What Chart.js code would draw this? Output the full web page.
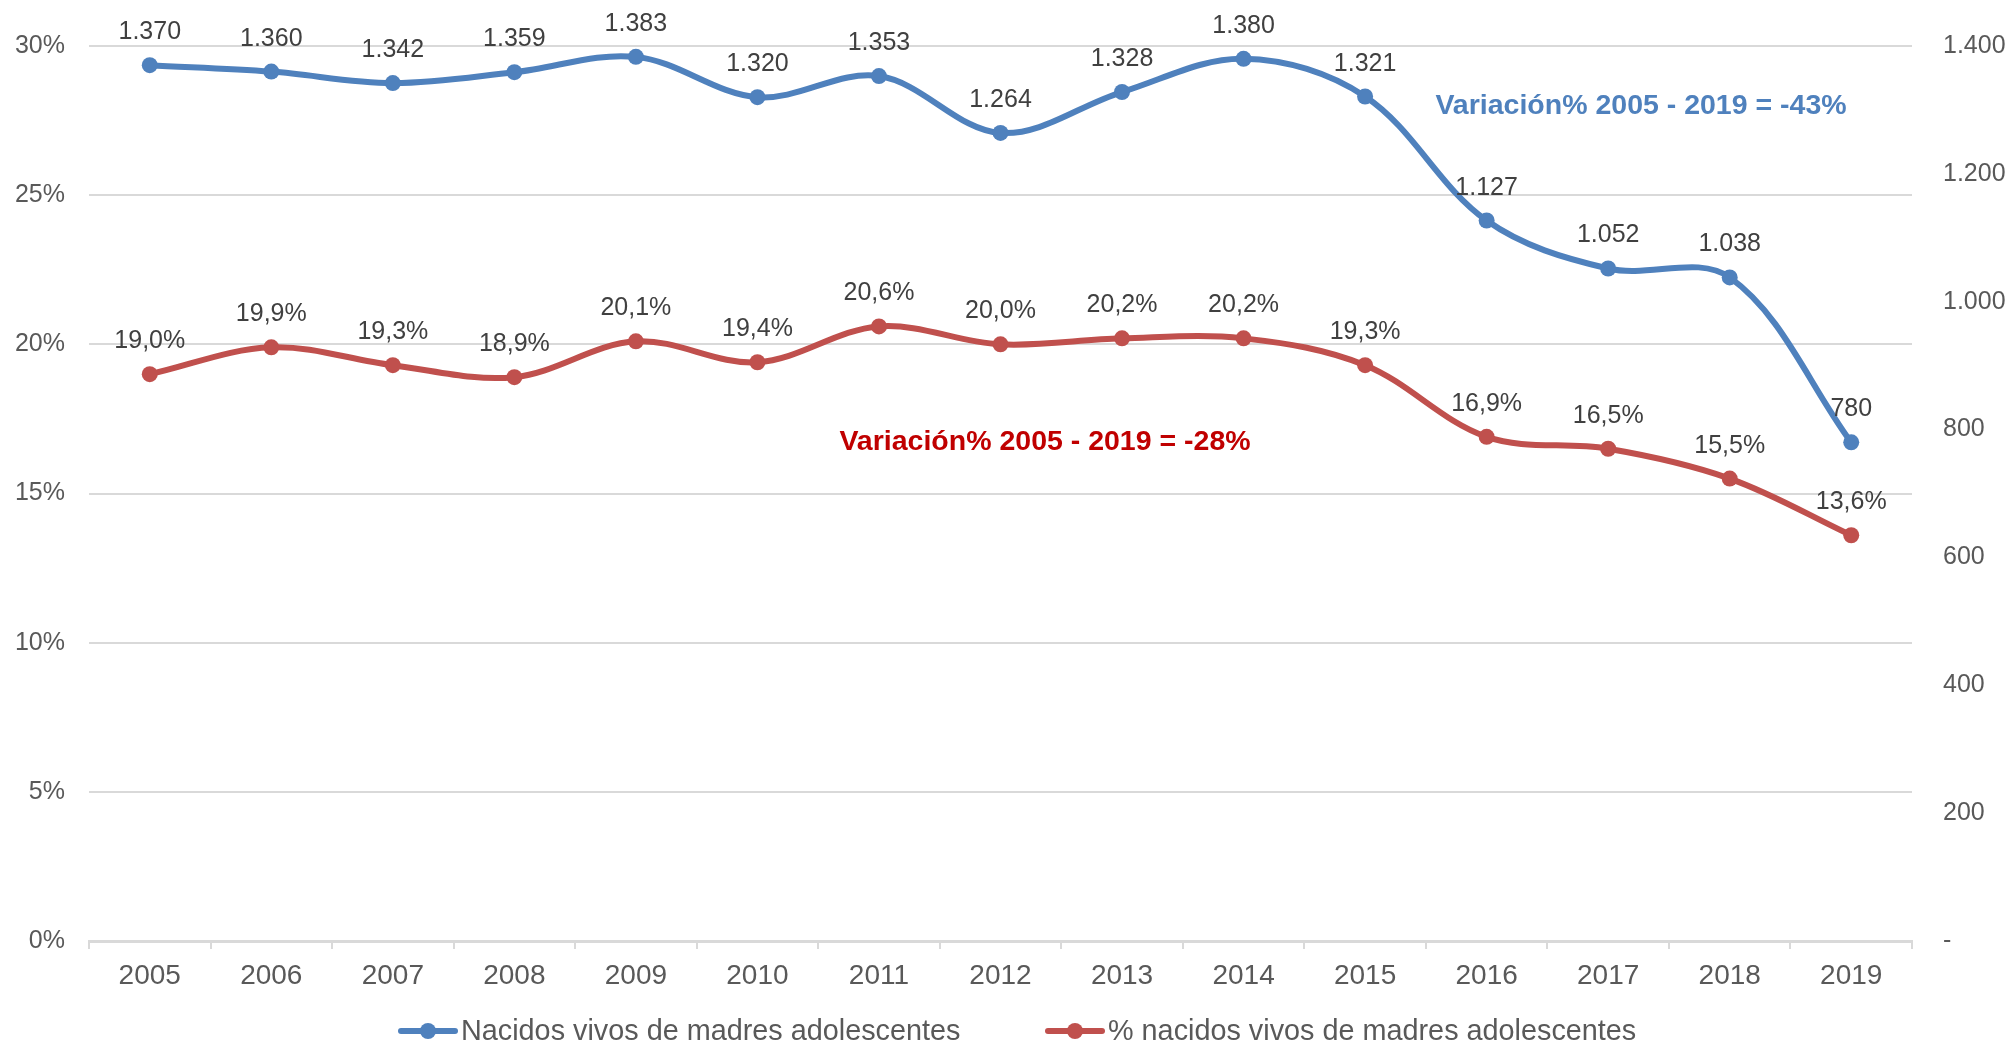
<!DOCTYPE html>
<html>
<head>
<meta charset="utf-8">
<script src="https://cdn.jsdelivr.net/npm/chart.js@4.4.1/dist/chart.umd.min.js"></script>
<style>
  html, body { margin: 0; padding: 0; background: #ffffff; }
  #wrap { width: 2009px; height: 1046px; position: relative; }
</style>
</head>
<body>
<div id="wrap"><canvas id="c" width="2009" height="1046"></canvas></div>
<script>
// ---- Data ----
const years = ['2005','2006','2007','2008','2009','2010','2011','2012','2013','2014','2015','2016','2017','2018','2019'];
const births = [1370, 1360, 1342, 1359, 1383, 1320, 1353, 1264, 1328, 1380, 1321, 1127, 1052, 1038, 780];
const pctBirths = [19.0, 19.9, 19.3, 18.9, 20.1, 19.4, 20.6, 20.0, 20.2, 20.2, 19.3, 16.9, 16.5, 15.5, 13.6];
const seriesNames = ['Nacidos vivos de madres adolescentes', '% nacidos vivos de madres adolescentes'];
const leftTicks = [0, 5, 10, 15, 20, 25, 30];
const rightTicks = [0, 200, 400, 600, 800, 1000, 1200, 1400];
const notes = ['Variación% 2005 - 2019 = -43%', 'Variación% 2005 - 2019 = -28%'];

// ---- Styles ----
const FONT = '"Liberation Sans", Arial, sans-serif';
const BLUE = '#4F81BD';
const RED = '#C0504D';
const GRID = '#D9D9D9';
const TICK = '#595959';

function fmtThousands(n) {
  if (n === 0) return '-';
  const s = String(Math.round(n));
  return s.replace(/\B(?=(\d{3})+(?!\d))/g, '.');
}
function fmtPct(n) { return n.toFixed(1).replace('.', ',') + '%'; }

const dataLabels = {
  id: 'dataLabels',
  afterDatasetsDraw(chart) {
    const ctx = chart.ctx;
    ctx.save();
    ctx.font = '25px ' + FONT;
    ctx.fillStyle = '#404040';
    ctx.textAlign = 'center';
    ctx.textBaseline = 'alphabetic';
    chart.data.datasets.forEach((ds, di) => {
      const meta = chart.getDatasetMeta(di);
      meta.data.forEach((pt, i) => {
        const txt = di === 0 ? fmtThousands(ds.data[i]) : fmtPct(ds.data[i]);
        ctx.fillText(txt, pt.x, pt.y - 26);
      });
    });
    ctx.restore();
  }
};

const notesPlugin = {
  id: 'notes',
  afterDraw(chart) {
    const ctx = chart.ctx;
    ctx.save();
    ctx.font = 'bold 28.5px ' + FONT;
    ctx.textAlign = 'center';
    ctx.textBaseline = 'alphabetic';
    ctx.fillStyle = BLUE;
    ctx.fillText(notes[0], 1641, 114);
    ctx.fillStyle = '#C00000';
    ctx.fillText(notes[1], 1045, 450);
    ctx.restore();
  }
};

const legendPlugin = {
  id: 'customLegend',
  afterDraw(chart) {
    const ctx = chart.ctx;
    const starts = [398, 1045];
    const cy = 1031;
    ctx.save();
    ctx.font = '28.8px ' + FONT;
    ctx.textBaseline = 'middle';
    ctx.textAlign = 'left';
    chart.data.datasets.forEach((ds, i) => {
      const x = starts[i];
      ctx.strokeStyle = ds.borderColor;
      ctx.lineWidth = 6;
      ctx.lineCap = 'round';
      ctx.beginPath();
      ctx.moveTo(x + 3, cy);
      ctx.lineTo(x + 57, cy);
      ctx.stroke();
      ctx.fillStyle = ds.borderColor;
      ctx.beginPath();
      ctx.arc(x + 30, cy, 8, 0, Math.PI * 2);
      ctx.fill();
      ctx.fillStyle = TICK;
      ctx.fillText(ds.label, x + 63, cy + 1);
    });
    ctx.restore();
  }
};

new Chart(document.getElementById('c'), {
  type: 'line',
  data: {
    labels: years,
    datasets: [
      {
        label: seriesNames[0],
        data: births,
        yAxisID: 'yR',
        borderColor: BLUE,
        backgroundColor: BLUE,
        pointBackgroundColor: BLUE,
        pointBorderWidth: 0,
        pointRadius: 8,
        pointHoverRadius: 8,
        borderWidth: 6,
        tension: 0.35,
        fill: false
      },
      {
        label: seriesNames[1],
        data: pctBirths,
        yAxisID: 'yL',
        borderColor: RED,
        backgroundColor: RED,
        pointBackgroundColor: RED,
        pointBorderWidth: 0,
        pointRadius: 8,
        pointHoverRadius: 8,
        borderWidth: 6,
        tension: 0.35,
        fill: false
      }
    ]
  },
  options: {
    responsive: false,
    animation: false,
    events: [],
    layout: { padding: { top: 43, left: 0, right: 0, bottom: 0 } },
    plugins: {
      legend: { display: false },
      tooltip: { enabled: false },
      title: { display: false }
    },
    scales: {
      x: {
        type: 'category',
        offset: true,
        grid: {
          offset: true,
          drawOnChartArea: false,
          drawTicks: true,
          tickLength: 8,
          color: GRID,
          lineWidth: 2
        },
        border: { display: true, color: GRID, width: 3 },
        ticks: {
          color: TICK,
          font: { family: FONT, size: 28 },
          padding: 10,
          maxRotation: 0,
          autoSkip: false
        },
        afterFit(scale) { scale.height = 105; }
      },
      yL: {
        type: 'linear',
        position: 'left',
        min: 0,
        max: 30,
        afterBuildTicks(scale) { scale.ticks = leftTicks.map(v => ({ value: v })); },
        grid: { color: GRID, lineWidth: 2, drawTicks: false },
        border: { display: false },
        ticks: {
          color: TICK,
          font: { family: FONT, size: 25 },
          padding: 24,
          callback: v => v + '%'
        },
        afterFit(scale) { scale.width = 89; }
      },
      yR: {
        type: 'linear',
        position: 'right',
        min: 0,
        max: 1400,
        afterBuildTicks(scale) { scale.ticks = rightTicks.map(v => ({ value: v })); },
        grid: { display: false, drawTicks: false },
        border: { display: false },
        ticks: {
          color: TICK,
          font: { family: FONT, size: 25 },
          padding: 31,
          callback: v => fmtThousands(v)
        },
        afterFit(scale) { scale.width = 97; }
      }
    }
  },
  plugins: [dataLabels, notesPlugin, legendPlugin]
});
</script>
</body>
</html>
